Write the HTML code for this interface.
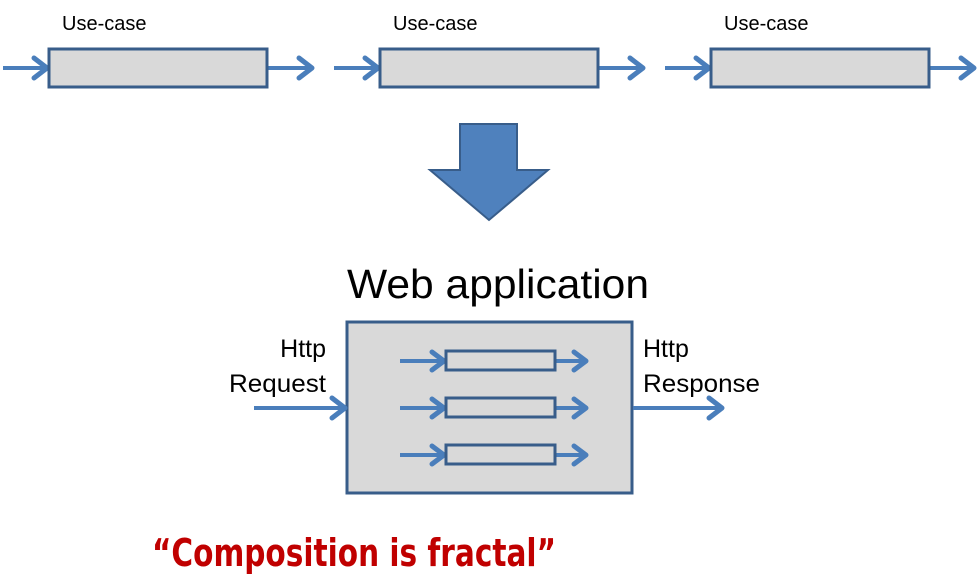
<!DOCTYPE html>
<html><head><style>html,body{margin:0;padding:0;background:#fff}</style></head>
<body>
<svg width="978" height="581" viewBox="0 0 978 581" xmlns="http://www.w3.org/2000/svg" font-family="Liberation Sans, sans-serif">
<defs>
<g id="arr"><line x1="0" y1="0" x2="-44" y2="0" stroke="#4a7ebb" stroke-width="4"/><polyline points="-13,-10 0,0 -13,10" fill="none" stroke="#4a7ebb" stroke-width="5" stroke-linecap="round" stroke-linejoin="round"/></g>
<g id="arrs"><line x1="0" y1="0" x2="-44" y2="0" stroke="#4a7ebb" stroke-width="4"/><polyline points="-12,-9 0,0 -12,9" fill="none" stroke="#4a7ebb" stroke-width="5" stroke-linecap="round" stroke-linejoin="round"/></g>
<g id="arrr"><line x1="0" y1="0" x2="-30" y2="0" stroke="#4a7ebb" stroke-width="4"/><polyline points="-12,-9 0,0 -12,9" fill="none" stroke="#4a7ebb" stroke-width="5" stroke-linecap="round" stroke-linejoin="round"/></g>
</defs>
<g font-size="20" fill="#000">
<text x="62" y="30">Use-case</text><text x="393" y="30">Use-case</text><text x="724" y="30">Use-case</text>
</g>
<use href="#arr" x="47" y="68"/><use href="#arr" x="312" y="68"/>
<use href="#arr" x="378" y="68"/><use href="#arr" x="643" y="68"/>
<use href="#arr" x="709" y="68"/><use href="#arr" x="974" y="68"/>
<g fill="#d9d9d9" stroke="#385d8a" stroke-width="3">
<rect x="49" y="49" width="218" height="38"/><rect x="380" y="49" width="218" height="38"/><rect x="711" y="49" width="218" height="38"/>
</g>
<polygon points="460,124 517,124 517,170 548,170 489,220 430,170 460,170" fill="#4f81bd" stroke="#385d8a" stroke-width="2"/>
<text x="498" y="298" font-size="41" text-anchor="middle" textLength="302" lengthAdjust="spacingAndGlyphs">Web application</text>
<rect x="347" y="322" width="285" height="171" fill="#d9d9d9" stroke="#385d8a" stroke-width="3"/>
<use href="#arrs" x="444" y="361"/><use href="#arrr" x="586" y="361"/>
<use href="#arrs" x="444" y="408"/><use href="#arrr" x="586" y="408"/>
<use href="#arrs" x="444" y="455"/><use href="#arrr" x="586" y="455"/>
<g fill="#d9d9d9" stroke="#385d8a" stroke-width="3">
<rect x="446" y="351" width="109" height="19"/><rect x="446" y="398" width="109" height="19"/><rect x="446" y="445" width="109" height="19"/>
</g>
<line x1="254" y1="408" x2="345" y2="408" stroke="#4a7ebb" stroke-width="4"/>
<polyline points="332,398 345,408 332,418" fill="none" stroke="#4a7ebb" stroke-width="5" stroke-linecap="round" stroke-linejoin="round"/>
<line x1="633" y1="408" x2="722" y2="408" stroke="#4a7ebb" stroke-width="4"/>
<polyline points="709,398 722,408 709,418" fill="none" stroke="#4a7ebb" stroke-width="5" stroke-linecap="round" stroke-linejoin="round"/>
<g font-size="25">
<text x="326" y="357" text-anchor="end">Http</text><text x="326" y="392" text-anchor="end" textLength="97" lengthAdjust="spacingAndGlyphs">Request</text>
<text x="643" y="357">Http</text><text x="643" y="392" textLength="117" lengthAdjust="spacingAndGlyphs">Response</text>
</g>
<text x="152" y="566" font-size="38" font-weight="bold" fill="#c00000" textLength="404" lengthAdjust="spacingAndGlyphs" font-family="DejaVu Sans Condensed, DejaVu Sans, sans-serif">“Composition is fractal”</text>
</svg>
</body></html>
